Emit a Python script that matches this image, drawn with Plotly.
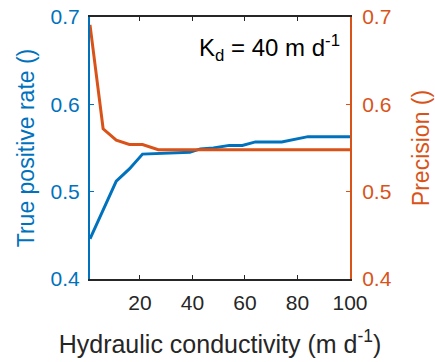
import plotly.graph_objects as go

# Data
k_tpr = [1, 11, 16, 21, 39, 43, 48, 54, 59, 64, 74, 84, 100]
tpr = [0.446, 0.512, 0.526, 0.543, 0.545, 0.549, 0.550, 0.553, 0.553, 0.557, 0.557, 0.563, 0.563]
k_prec = [1, 6, 11, 16, 21, 27, 100]
prec = [0.691, 0.572, 0.559, 0.554, 0.554, 0.548, 0.548]
x_ticks = [20, 40, 60, 80, 100]
y_ticks = [0.4, 0.5, 0.6, 0.7]

BLUE = "#0072BD"
ORANGE = "#D95319"
DARK = "#262626"
FONT = "Liberation Sans, Arial, sans-serif"

fig = go.Figure()
fig.add_trace(go.Scatter(x=k_tpr, y=tpr, mode="lines",
                         line=dict(color=BLUE, width=3), yaxis="y", showlegend=False))
fig.add_trace(go.Scatter(x=k_prec, y=prec, mode="lines",
                         line=dict(color=ORANGE, width=3), yaxis="y2", showlegend=False))

fig.update_layout(
    width=435, height=362,
    margin=dict(l=90, r=85, t=17, b=83, autoexpand=False),
    paper_bgcolor="white", plot_bgcolor="white",
    font=dict(family=FONT, size=21, color=DARK),
    xaxis=dict(range=[1, 100], tickvals=x_ticks, ticks="inside", ticklen=4,
               tickcolor=DARK, showline=True, linecolor=DARK, linewidth=2,
               mirror="ticks", showgrid=False, zeroline=False, automargin=False,
               ticklabelstandoff=4,
               tickfont=dict(size=21, color=DARK),
               title=dict(text="Hydraulic conductivity (m d<sup>-1</sup>)",
                          font=dict(size=25, color=DARK), standoff=22)),
    yaxis=dict(range=[0.4, 0.7], tickvals=y_ticks, tickformat=".1f",
               ticks="inside", ticklen=4, tickcolor=BLUE, showline=True,
               linecolor=BLUE, linewidth=2, showgrid=False, zeroline=False,
               automargin=False, ticklabelstandoff=4,
               tickfont=dict(size=21, color=BLUE),
               title=dict(text="True positive rate ()", font=dict(size=23, color=BLUE),
                          standoff=10)),
    yaxis2=dict(range=[0.4, 0.7], tickvals=y_ticks, tickformat=".1f",
                overlaying="y", side="right", automargin=False,
                ticks="inside", ticklen=4, tickcolor=ORANGE, showline=True,
                linecolor=ORANGE, linewidth=2, showgrid=False, zeroline=False,
                ticklabelstandoff=6,
                tickfont=dict(size=21, color=ORANGE),
                title=dict(text="Precision ()", font=dict(size=23, color=ORANGE),
                           standoff=22)),
    annotations=[dict(text="K<sub>d</sub> = 40 m d<sup>-1</sup>", xref="paper", yref="paper",
                      x=0.97, y=0.955, xanchor="right", yanchor="top", showarrow=False,
                      font=dict(size=24, color="black", family=FONT))],
)

fig.write_html("out.html", config={"displayModeBar": False},
               post_script="document.body.style.margin='0';document.body.style.overflow='hidden';")
